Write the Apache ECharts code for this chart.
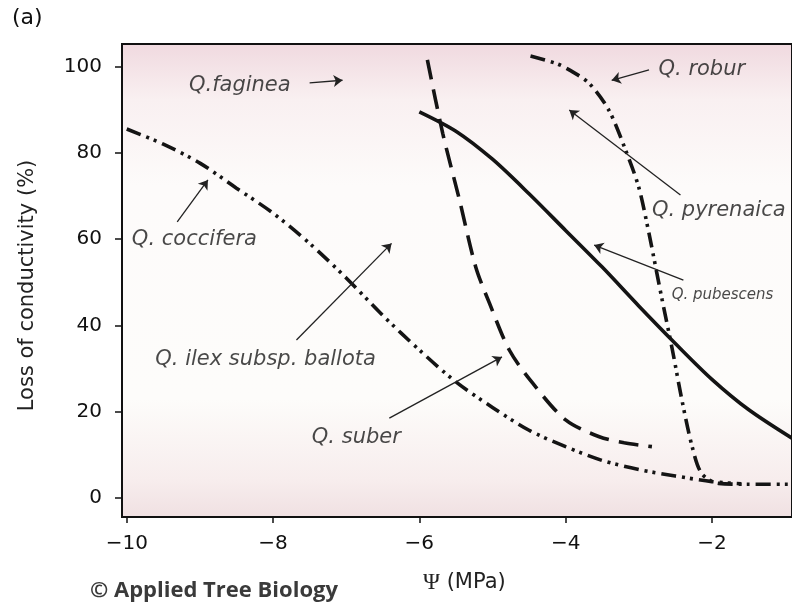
<!DOCTYPE html>
<html>
<head>
<meta charset="utf-8">
<script src="https://cdn.jsdelivr.net/npm/echarts@6/dist/echarts.min.js"></script>
<style>
html,body{margin:0;padding:0;background:#fff;}
#chart{width:792px;height:604px;}
</style>
</head>
<body>
<div id="chart"></div>
<script>
// tick values
var xTicks = [-10, -8, -6, -4, -2];
var yTicks = [0, 20, 40, 60, 80, 100];

// Q. coccifera (dash dot dot)
var cocciferaX = [-10, -9.5, -9.0, -8.5, -8.0, -7.5, -7.0, -6.5, -6.0, -5.5, -5.0, -4.5, -4.0, -3.5, -3.0, -2.5, -2.0, -1.6];
var cocciferaY = [85.5, 82.0, 77.6, 71.8, 66.0, 59.0, 51.0, 42.3, 34.3, 26.9, 21.0, 15.7, 11.9, 8.7, 6.6, 5.1, 3.8, 3.3];

// Q. faginea / suber (dashed)
var fagineaX = [-5.89, -5.68, -5.45, -5.23, -5.04, -4.77, -4.45, -4.0, -3.54, -3.2, -2.82];
var fagineaY = [101.5, 84.5, 69.0, 53.6, 45.1, 34.3, 26.6, 18.1, 14.2, 12.8, 11.9];

// Q. pubescens (solid)
var pubescensX = [-6.0, -5.5, -5.0, -4.5, -4.0, -3.5, -3.0, -2.5, -2.0, -1.5, -0.9];
var pubescensY = [89.5, 85.0, 78.5, 70.5, 62.0, 53.5, 44.5, 35.8, 27.5, 20.5, 13.8];

// Q. robur / pyrenaica (dash dot dot)
var roburX = [-4.48, -4.13, -3.95, -3.68, -3.41, -3.18, -3.0, -2.86, -2.77, -2.68, -2.54, -2.41, -2.27, -2.14, -1.91, -1.5, -0.9];
var roburY = [102.4, 100.7, 99.2, 96.1, 89.9, 80.6, 72.0, 61.3, 53.6, 45.9, 34.3, 22.7, 11.9, 5.7, 3.4, 3.2, 3.2];

// species labels (left edge of text, data units)
var labelNames = ['Q.faginea', 'Q. coccifera', 'Q. ilex subsp. ballota', 'Q. suber', 'Q. robur', 'Q. pyrenaica', 'Q. pubescens'];
var labelX = [-9.15, -9.93, -9.61, -7.47, -2.73, -2.82, -2.55];
var labelY = [95.5, 60.0, 32.0, 14.1, 99.2, 66.7, 47.0];

// arrows: from -> to (data units)
var arrowFrom = [[-7.50, 96.2], [-9.31, 64.0], [-7.68, 36.6], [-6.41, 18.5], [-2.86, 99.2], [-2.43, 70.2], [-2.39, 50.5]];
var arrowTo = [[-7.05, 96.8], [-8.89, 73.7], [-6.38, 59.0], [-4.87, 32.7], [-3.37, 96.8], [-3.95, 89.9], [-3.61, 58.6]];

function pairs(xs, ys) {
    var out = [];
    for (var i = 0; i < xs.length; i++) out.push([xs[i], ys[i]]);
    return out;
}
function minus(v) {
    return String(v).replace('-', '\u2212');
}

var FONT = '"DejaVu Sans", "Liberation Sans", sans-serif';
var INK = '#141414';

var myChart = echarts.init(document.getElementById('chart'));

var curveStyle = function (type) {
    return {color: INK, width: 3.6, type: type, cap: 'butt'};
};

var labelData = [];
for (var i = 0; i < labelNames.length; i++) {
    labelData.push({
        name: labelNames[i],
        value: [labelX[i], labelY[i]],
        label: {fontSize: labelNames[i] === 'Q. pubescens' ? 15 : 21}
    });
}
var arrowData = [];
for (var j = 0; j < arrowFrom.length; j++) {
    arrowData.push([{coord: arrowFrom[j]}, {coord: arrowTo[j]}]);
}

var option = {
    animation: false,
    backgroundColor: '#ffffff',
    grid: {
        left: 122, right: -2, top: 44, bottom: 87,
        show: true,
        borderWidth: 2,
        borderColor: '#111',
        backgroundColor: new echarts.graphic.LinearGradient(0, 0, 0, 1, [
            {offset: 0, color: '#f0d9df'},
            {offset: 0.12, color: '#f9f0f1'},
            {offset: 0.3, color: '#fdfbfa'},
            {offset: 0.75, color: '#fdfcfa'},
            {offset: 0.92, color: '#f7eded'},
            {offset: 1, color: '#f0e0e2'}
        ])
    },
    xAxis: {
        type: 'value',
        min: -10.065,
        max: -0.905,
        axisLine: {show: false, onZero: false},
        splitLine: {show: false},
        axisTick: {show: true, inside: false, length: 6, customValues: xTicks, lineStyle: {color: '#111', width: 1.5}},
        axisLabel: {customValues: xTicks, margin: 17, fontSize: 20, color: '#111', fontFamily: FONT, formatter: minus}
    },
    yAxis: {
        type: 'value',
        min: -4.4,
        max: 105.2,
        name: 'Loss of conductivity (%)',
        nameLocation: 'middle',
        nameGap: 84,
        nameTextStyle: {fontSize: 21, color: '#222', fontFamily: FONT, padding: [0, 10, 0, 0]},
        axisLine: {show: false, onZero: false},
        splitLine: {show: false},
        axisTick: {show: true, inside: false, length: 7, customValues: yTicks, lineStyle: {color: '#111', width: 1.5}},
        axisLabel: {customValues: yTicks, margin: 20, fontSize: 20, color: '#111', fontFamily: FONT}
    },
    series: [
        {
            name: 'Q. coccifera', type: 'line', showSymbol: false, smooth: 0.3,
            data: pairs(cocciferaX, cocciferaY), lineStyle: curveStyle([15, 6, 3, 5, 3, 6])
        },
        {
            name: 'Q. faginea', type: 'line', showSymbol: false, smooth: 0.3,
            data: pairs(fagineaX, fagineaY), lineStyle: curveStyle([20, 10])
        },
        {
            name: 'Q. pubescens', type: 'line', showSymbol: false, smooth: 0.3,
            data: pairs(pubescensX, pubescensY), lineStyle: curveStyle('solid')
        },
        {
            name: 'Q. robur', type: 'line', showSymbol: false, smooth: 0.3,
            data: pairs(roburX, roburY), lineStyle: curveStyle([15, 6, 3, 5, 3, 6])
        },
        {
            name: 'labels', type: 'scatter', symbolSize: 0, silent: true,
            data: labelData,
            label: {
                show: true, position: 'right', distance: 0, formatter: '{b}',
                fontFamily: FONT, fontStyle: 'italic', fontSize: 21, color: '#1a1a1a'
            },
            markLine: {
                silent: true,
                symbol: ['none', 'arrow'],
                symbolSize: 9,
                label: {show: false},
                lineStyle: {color: '#222', width: 1.3, type: 'solid'},
                data: arrowData
            }
        }
    ],
    graphic: [
        {type: 'text', left: 12, top: 7, style: {text: '(a)', fontSize: 22, fontFamily: FONT, fill: '#111'}},
        {type: 'text', left: 423, top: 571, style: {
            text: '{p|\u03A8} (MPa)', fontSize: 21, fontFamily: FONT, fill: '#222',
            rich: {p: {fontFamily: '"Liberation Serif", serif', fontSize: 23, fill: '#222'}}
        }},
        {type: 'text', left: 90, top: 580, style: {
            text: '\u00A9 Applied Tree Biology', fontSize: 22, fontWeight: 'bold',
            fontFamily: '"Open Sans", sans-serif', fill: '#3a3a3a'
        }}
    ]
};

myChart.setOption(option);
</script>
</body>
</html>
